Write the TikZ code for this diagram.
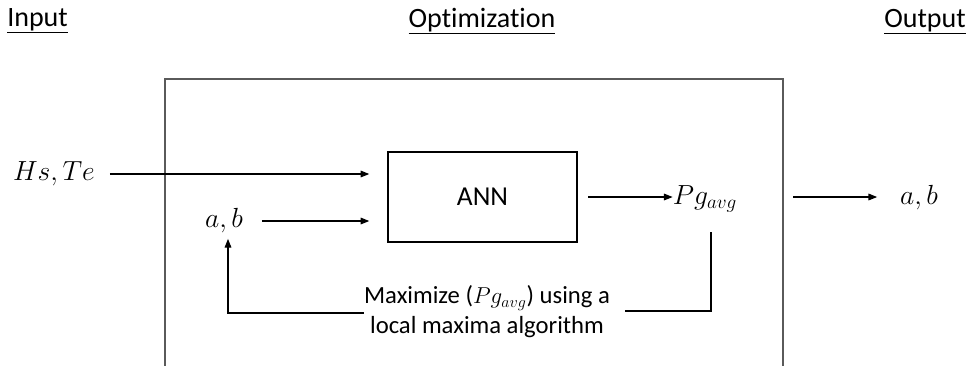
\documentclass[tikz,border=0pt]{standalone}
\usepackage{fontspec}
\setmainfont{Carlito}[Ligatures={NoCommon}]
\usetikzlibrary{arrows.meta}
\definecolor{framegray}{HTML}{5A5A5A}
\begin{document}
\begin{tikzpicture}[x=0.75pt,y=-0.75pt,
  head/.style={inner sep=0pt, font=\fontsize{21}{24}\selectfont},
  mth/.style={inner sep=0pt, font=\fontsize{20}{24}\selectfont},
  note/.style={inner sep=0pt, align=center, font=\fontsize{18.5}{22.5}\selectfont},
  annbox/.style={draw, line width=1.1pt, minimum width=141.75pt, minimum height=67.5pt,
     inner sep=0pt, font=\fontsize{20.5}{24}\selectfont},
  arr/.style={-{Triangle[length=6.5pt,width=5pt]}, line width=0.8pt},
  ln/.style={line width=0.8pt},
  frame/.style={draw=framegray, line width=1.3pt}]
\useasboundingbox (0,0) rectangle (970,365);
% headings
\node[head, anchor=base west] (hin) at (7,26) {\underline{Input}};
\node[head, anchor=base] (hopt) at (482,27) {\underline{Optimization}};
\node[head, anchor=base east] (hout) at (966,27) {\underline{Output}};
% open frame
\coordinate (f1) at (165,366);
\coordinate (f2) at (165,79);
\coordinate (f3) at (783,79);
\coordinate (f4) at (783,366);
\draw[frame] (f1) -- (f2) -- (f3) -- (f4);
% nodes
\node[annbox] (ann) at (482.5,197) {ANN};
\node[mth] (hste) at (54,174) {$Hs,Te$};
\node[mth] (abin) at (224,221) {$a,b$};
\node[mth] (pg) at (705,199) {$Pg_{avg}$};
\node[mth] (about) at (919,198) {$a,b$};
\node[note] (maxtxt) at (487,312) {Maximize ($Pg_{avg}$) using a\\local maxima algorithm};
% connectors
\draw[arr, shorten <=11pt, shorten >=13.5pt] (hste.east) -- (ann.west |- hste.east);
\draw[arr, shorten <=14pt, shorten >=13.5pt] (abin.east) -- (ann.west |- abin.east);
\draw[arr, shorten <=8pt] (ann.east |- 0,197) -- (pg.west |- 0,197);
\draw[arr, shorten <=7.5pt, shorten >=17pt] (f3 |- 0,197) -- (about.west |- 0,197);
\coordinate (fbtop) at (711,232);
\coordinate (fbR) at (711,311);
\coordinate (fbL) at (228,313);
\draw[ln, shorten >=11pt] (fbtop) -- (fbR) -- (maxtxt.east |- fbR);
\draw[arr, shorten >=4pt] (maxtxt.west |- fbL) -- (fbL) -- (fbL |- abin.south);
\end{tikzpicture}
\end{document}
